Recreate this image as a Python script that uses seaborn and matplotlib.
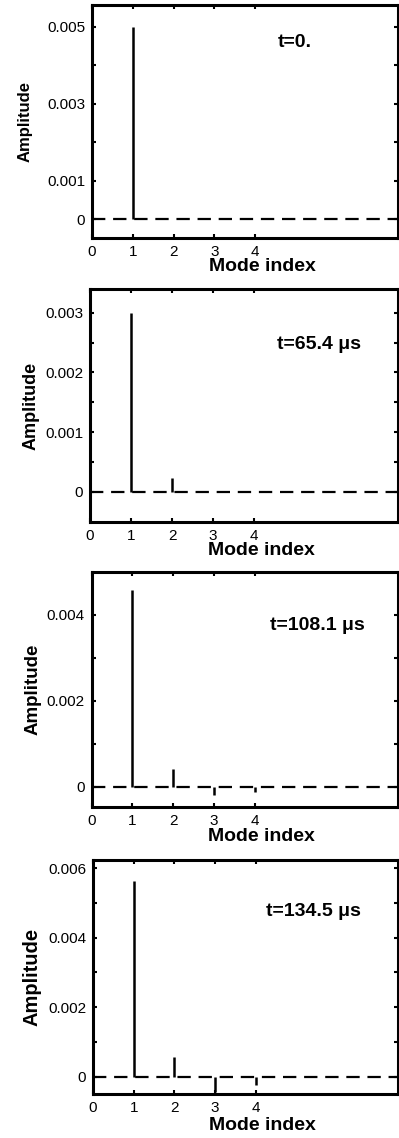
import numpy as np
import matplotlib
matplotlib.use("Agg")
import matplotlib.pyplot as plt
import seaborn as sns
from matplotlib.ticker import FixedLocator, FixedFormatter

# Mode amplitudes at four instants
modes = [1, 2, 3, 4]
amp_t0 = [0.005, 0.0, 0.0, 0.0]
amp_t65 = [0.0030, 0.000225, -0.00001, 0.0]
amp_t108 = [0.00457, 0.000405, -0.00019, -0.00012]
amp_t134 = [0.00564, 0.00056, -0.00043, -0.00024]

titles = ["t=0.", "t=65.4 \u03bcs", "t=108.1 \u03bcs", "t=134.5 \u03bcs"]
x_ticks = [0, 1, 2, 3, 4]
x_ticklabels = ["0", "1", "2", "3", "4"]

y_ticks = [
    [0, 0.001, 0.002, 0.003, 0.004, 0.005],
    [0, 0.0005, 0.001, 0.0015, 0.002, 0.0025, 0.003],
    [0, 0.001, 0.002, 0.003, 0.004],
    [0, 0.001, 0.002, 0.003, 0.004, 0.005, 0.006],
]
y_ticklabels = [
    ["0", "0.001", "", "0.003", "", "0.005"],
    ["0", "", "0.001", "", "0.002", "", "0.003"],
    ["0", "", "0.002", "", "0.004"],
    ["0", "", "0.002", "", "0.004", "", "0.006"],
]
y_limits = [(-0.00049, 0.00556), (-0.00051, 0.0034), (-0.00047, 0.0050), (-0.0005, 0.00624)]

series = [amp_t0, amp_t65, amp_t108, amp_t134]

sns.set_style("ticks")
plt.rcParams["font.family"] = ["Liberation Sans", "DejaVu Sans"]
plt.rcParams["text.color"] = "black"
plt.rcParams["axes.labelcolor"] = "black"

fig = plt.figure(figsize=(3.99, 11.38), dpi=100)
H = 1138.0
W = 399.0
# (left px, top px, bottom px)
boxes = [(92, 5, 238), (90, 289, 522), (91.5, 572, 807), (93, 860, 1094)]
title_pos = [(0.663, 0.837), (0.742, 0.76), (0.738, 0.774), (0.722, 0.778)]
ylabel_right = [33, 40, 42, 42]
ylabel_size = [12, 13, 13.5, 14.5]
xlabel_gap = [20, 20, 21, 23]

for i, vals in enumerate(series):
    l, t, b = boxes[i]
    w_px, h_px = 398 - l, b - t
    ax = fig.add_axes([l / W, 1 - b / H, w_px / W, h_px / H])
    ax.axhline(0, color="black", lw=1.6, ls=(0, (6, 3.5)), zorder=2)
    ax.vlines(modes, 0, vals, color="black", lw=1.8, zorder=3)
    ax.set_xlim(0, 7.5)
    ax.set_ylim(*y_limits[i])
    ax.xaxis.set_major_locator(FixedLocator(x_ticks))
    ax.xaxis.set_major_formatter(FixedFormatter(x_ticklabels))
    ax.yaxis.set_major_locator(FixedLocator(y_ticks[i]))
    ax.yaxis.set_major_formatter(FixedFormatter(y_ticklabels[i]))
    ax.tick_params(direction="in", top=True, right=True, length=3, width=1.5,
                   labelsize=11, pad=5, colors="black")
    for s in ax.spines.values():
        s.set_linewidth(2.2)
        s.set_color("black")
    ax.set_xlabel("Mode index", fontsize=14, fontweight="bold")
    ax.xaxis.set_label_coords(0.556, -xlabel_gap[i] / h_px)
    ax.set_ylabel("Amplitude", fontsize=ylabel_size[i], fontweight="bold")
    ax.yaxis.set_label_coords((ylabel_right[i] - l) / w_px, 0.5)
    ax.text(title_pos[i][0], title_pos[i][1], titles[i], transform=ax.transAxes,
            ha="center", va="center", fontsize=14, fontweight="bold")

fig.savefig("out.png", dpi=100)
